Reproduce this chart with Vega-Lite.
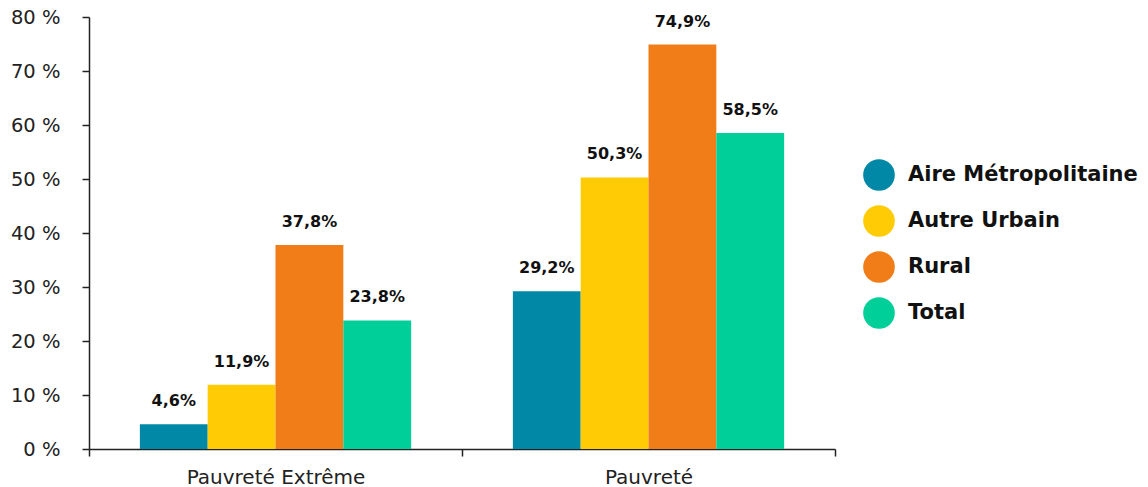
{
  "$schema": "https://vega.github.io/schema/vega-lite/v6.json",
  "autosize": "none",
  "width": 746,
  "height": 432,
  "padding": {"left": 89, "top": 17, "right": 313, "bottom": 38},
  "background": "white",
  "config": {
    "view": {"stroke": null},
    "font": "DejaVu Sans",
    "locale": {"number": {"decimal": ",", "thousands": " ", "grouping": [3], "currency": ["", " €"]}}
  },
  "data": {
    "values": [
      {"cat": "Pauvreté Extrême", "zone": "Aire Métropolitaine", "value": 0.046},
      {"cat": "Pauvreté Extrême", "zone": "Autre Urbain", "value": 0.119},
      {"cat": "Pauvreté Extrême", "zone": "Rural", "value": 0.378},
      {"cat": "Pauvreté Extrême", "zone": "Total", "value": 0.238},
      {"cat": "Pauvreté", "zone": "Aire Métropolitaine", "value": 0.292},
      {"cat": "Pauvreté", "zone": "Autre Urbain", "value": 0.503},
      {"cat": "Pauvreté", "zone": "Rural", "value": 0.749},
      {"cat": "Pauvreté", "zone": "Total", "value": 0.585}
    ]
  },
  "encoding": {
    "x": {
      "field": "cat", "type": "nominal", "sort": ["Pauvreté Extrême", "Pauvreté"],
      "scale": {"paddingInner": 0, "paddingOuter": 0},
      "axis": {
        "title": null, "labelAngle": 0, "tickBand": "extent", "domainColor": "#222", "tickColor": "#222",
        "tickSize": 7, "tickWidth": 1.5, "domainWidth": 1.5, "labelPadding": 11, "labelFontSize": 20, "labelColor": "#222"
      }
    },
    "xOffset": {
      "field": "zone", "type": "nominal", "sort": ["Aire Métropolitaine", "Autre Urbain", "Rural", "Total"],
      "scale": {"paddingInner": 0, "paddingOuter": 0.75}
    },
    "y": {
      "field": "value", "type": "quantitative",
      "scale": {"domain": [0, 0.8], "nice": false},
      "axis": {
        "title": null, "grid": false, "values": [0, 0.1, 0.2, 0.3, 0.4, 0.5, 0.6, 0.7, 0.8],
        "labelExpr": "replace(format(datum.value, '.0%'), '%', ' %')",
        "domainColor": "#222", "tickColor": "#222", "tickSize": 7, "tickWidth": 1.5, "domainWidth": 1.5,
        "labelPadding": 22, "labelFontSize": 19.5, "labelColor": "#222"
      }
    }
  },
  "layer": [
    {
      "mark": {"type": "bar"},
      "encoding": {
        "color": {
          "field": "zone", "type": "nominal", "sort": ["Aire Métropolitaine", "Autre Urbain", "Rural", "Total"],
          "scale": {"domain": ["Aire Métropolitaine", "Autre Urbain", "Rural", "Total"], "range": ["#0088a6", "#ffcb05", "#f07d18", "#00cf9a"]},
          "legend": {
            "title": null, "orient": "none", "legendX": 774, "legendY": 142,
            "symbolType": "circle", "symbolSize": 1000, "symbolStrokeWidth": 0, "symbolOpacity": 1,
            "labelFontSize": 21, "labelFontWeight": "bold", "labelColor": "#111", "labelLimit": 400,
            "rowPadding": 14, "labelOffset": 13
          }
        }
      }
    },
    {
      "mark": {"type": "text", "dy": -23, "baseline": "middle", "fontSize": 16, "fontWeight": "bold", "color": "#111"},
      "encoding": {
        "text": {"field": "value", "type": "quantitative", "format": ".1%"}
      }
    }
  ]
}
